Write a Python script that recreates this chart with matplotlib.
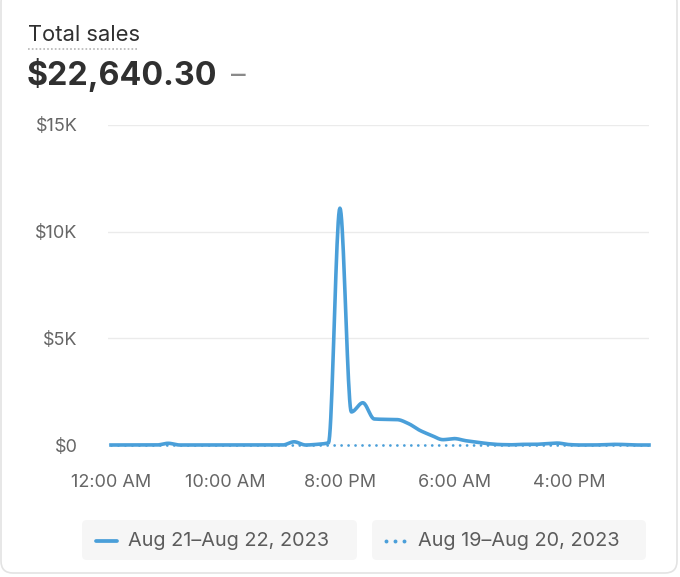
import numpy as np
import matplotlib.pyplot as plt
from matplotlib.patches import FancyBboxPatch
from matplotlib.ticker import FuncFormatter

plt.rcParams['font.family'] = ['Inter', 'DejaVu Sans']

# hourly sales, Aug 21 12 AM -> Aug 22 11 PM
hours = np.arange(48)
sales = [0, 0, 0, 0, 0, 80, 0, 0, 0, 0, 0, 0, 0, 0, 0, 0, 150, 0, 30, 100,
         11100, 1550, 1980, 1220, 1200, 1190, 1000, 680, 450, 250, 300, 200,
         130, 60, 20, 10, 30, 30, 60, 90, 20, 0, 0, 10, 30, 20, 0, 0]
previous = [0] * 48

x_ticks = [0, 10, 20, 30, 40]
x_labels = ["12:00 AM", "10:00 AM", "8:00 PM", "6:00 AM", "4:00 PM"]
y_ticks = [0, 5000, 10000, 15000]

title = "Total sales"
total = "$22,640.30"
legend_labels = ["Aug 21\u2013Aug 22, 2023", "Aug 19\u2013Aug 20, 2023"]

blue = "#4a9fd9"
grey_text = "#666666"


def monotone(x, y, n=20):
    # Fritsch-Carlson monotone cubic, for a smooth line like the original
    x = np.asarray(x, float)
    y = np.asarray(y, float)
    h = np.diff(x)
    d = np.diff(y) / h
    m = np.zeros_like(y)
    m[0], m[-1] = d[0], d[-1]
    for i in range(1, len(y) - 1):
        if d[i - 1] * d[i] <= 0:
            m[i] = 0
        else:
            w1 = 2 * h[i] + h[i - 1]
            w2 = h[i] + 2 * h[i - 1]
            m[i] = (w1 + w2) / (w1 / d[i - 1] + w2 / d[i])
    xs, ys = [], []
    for i in range(len(x) - 1):
        t = np.linspace(0, 1, n, endpoint=False)
        h00 = 2 * t**3 - 3 * t**2 + 1
        h10 = t**3 - 2 * t**2 + t
        h01 = -2 * t**3 + 3 * t**2
        h11 = t**3 - t**2
        xs.append(x[i] + t * h[i])
        ys.append(h00 * y[i] + h10 * h[i] * m[i] + h01 * y[i + 1] + h11 * h[i] * m[i + 1])
    xs.append([x[-1]])
    ys.append([y[-1]])
    return np.concatenate(xs), np.concatenate(ys)


fig = plt.figure(figsize=(6.8, 5.77), dpi=100)

# background layer in pixel units
bg = fig.add_axes([0, 0, 1, 1], zorder=0)
bg.set_xlim(0, 680)
bg.set_ylim(577, 0)
bg.axis("off")
bg.add_patch(FancyBboxPatch((1, -10), 676, 583, boxstyle="round,pad=0,rounding_size=12",
                            fc="white", ec="#e3e3e3", lw=1.2))

bg.text(28, 41, title, fontsize=15.8, color="#303030")
bg.plot([28, 139], [48.5, 48.5], color="#b5b5b5", lw=1.2, ls=(0, (1, 1.3)))
bg.text(27, 85, total, fontsize=23.2, fontweight="bold", color="#303030")
bg.text(231, 84, "\u2013", fontsize=21, color="#8a8a8a")

# legend chips
for i, (x0, w) in enumerate([(82, 275), (372, 274)]):
    bg.add_patch(FancyBboxPatch((x0, 520), w, 40, boxstyle="round,pad=0,rounding_size=5",
                                fc="#f6f6f6", ec="none"))
    bg.text(x0 + 46, 541, legend_labels[i], fontsize=14.3, color="#5c5c5c", va="center")
bg.plot([96, 117], [541, 541], color=blue, lw=2.7, solid_capstyle="round")
bg.plot([386, 395, 404], [541, 541, 541], "o", color=blue, ms=2.8, mec="none")

# chart
ax = fig.add_axes([108 / 680, 132 / 577, 541 / 680, 320 / 577], zorder=1)
ax.patch.set_alpha(0)
ax.set_xlim(-0.26, 47)
ax.set_ylim(0, 15000)

ax.plot(hours, previous, color=blue, lw=2.0, ls=(0, (0.01, 2.5)),
        dash_capstyle="round", clip_on=False, zorder=2)
sx, sy = monotone(hours, sales)
ax.plot(sx, sy, color=blue, lw=2.6, clip_on=False, zorder=3, solid_joinstyle="round")

ax.set_yticks(y_ticks)
ax.yaxis.set_major_formatter(FuncFormatter(lambda v, p: "$0" if v == 0 else f"${v / 1000:.0f}K"))
ax.set_xticks(x_ticks)
ax.set_xticklabels(x_labels)
ax.grid(axis="y", color="#ebebeb", lw=1)
ax.set_axisbelow(True)
for s in ax.spines.values():
    s.set_visible(False)
ax.tick_params(length=0, labelsize=13, labelcolor=grey_text)
ax.tick_params(axis="y", pad=22)
ax.tick_params(axis="x", pad=21)

fig.savefig("out.png", dpi=100)
